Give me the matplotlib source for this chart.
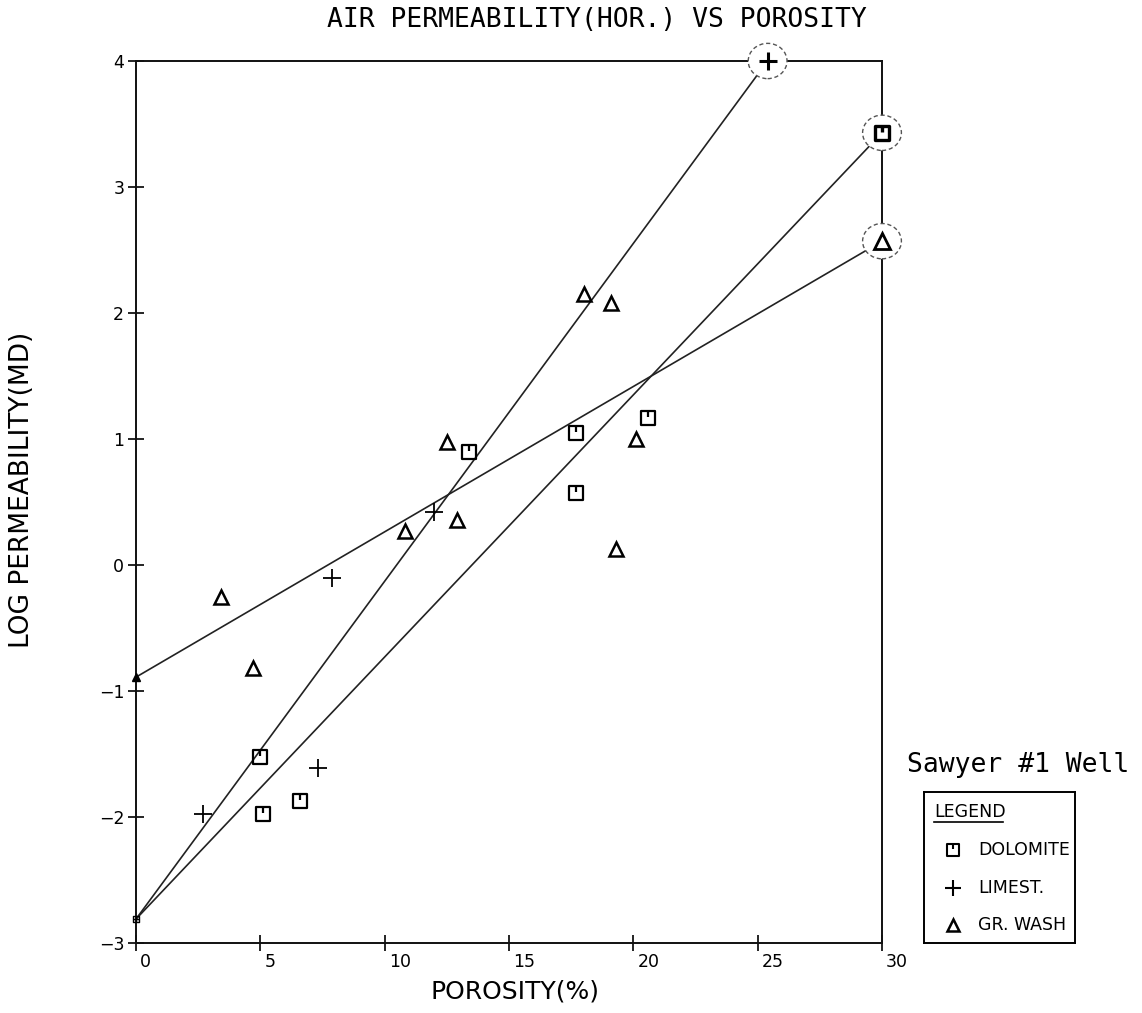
import matplotlib
matplotlib.use('Agg')
import matplotlib.pyplot as plt
from matplotlib.path import Path
from matplotlib.patches import Ellipse
import matplotlib.transforms as mtransforms

# ---------------- data ----------------
dolo_x = [5.0, 5.1, 6.6, 13.4, 17.7, 17.7, 20.6]
dolo_y = [-1.52, -1.98, -1.87, 0.90, 1.05, 0.57, 1.17]
lime_x = [2.7, 7.3, 7.9, 12.0]
lime_y = [-1.98, -1.61, -0.10, 0.42]
gw_x = [3.4, 4.7, 10.8, 12.5, 12.9, 18.0, 19.1, 20.1, 19.3]
gw_y = [-0.25, -0.82, 0.27, 0.98, 0.36, 2.15, 2.08, 1.00, 0.13]

# fitted lines (start at intercept, end at circled point)
dolo_line_x = [0, 30]
dolo_line_y = [-2.81, 3.43]
lime_line_x = [0, 25.4]
lime_line_y = [-2.81, 4.0]
gw_line_x = [0, 30]
gw_line_y = [-0.89, 2.57]

x_ticks = [0, 5, 10, 15, 20, 25, 30]
y_ticks = [-3, -2, -1, 0, 1, 2, 3, 4]

title = "AIR PERMEABILITY(HOR.) VS POROSITY"
x_label = "POROSITY(%)"
y_label = "LOG PERMEABILITY(MD)"
well_name = "Sawyer #1 Well"
legend_title = "LEGEND"
legend_labels = ["DOLOMITE", "LIMEST.", "GR. WASH"]

# ---------------- markers ----------------
sq_marker = Path([(-1, -1), (1, -1), (1, 1), (-1, 1), (-1, -1), (0, 1), (0, 0.15)],
                 [Path.MOVETO, Path.LINETO, Path.LINETO, Path.LINETO, Path.CLOSEPOLY,
                  Path.MOVETO, Path.LINETO])
sq_small = Path([(-1, -1), (1, -1), (1, 1), (-1, 1), (-1, -1), (0, 1), (0, -1), (-1, 0), (1, 0)],
                [Path.MOVETO, Path.LINETO, Path.LINETO, Path.LINETO, Path.CLOSEPOLY,
                 Path.MOVETO, Path.LINETO, Path.MOVETO, Path.LINETO])

plt.rcParams['font.family'] = ['DejaVu Sans']
fig = plt.figure(figsize=(11.42, 10.13), dpi=100)
ax = fig.add_axes([136 / 1142, 1 - 943 / 1013, (882 - 136) / 1142, (943 - 61) / 1013])

lc = '#222222'
ax.plot(dolo_line_x, dolo_line_y, color=lc, lw=1.2, zorder=2)
ax.plot(lime_line_x, lime_line_y, color=lc, lw=1.2, zorder=2)
ax.plot(gw_line_x, gw_line_y, color=lc, lw=1.2, zorder=2)

ax.plot(dolo_x, dolo_y, ls='none', marker=sq_marker, ms=10, mfc='none', mec='black', mew=1.6, zorder=3)
ax.plot(lime_x, lime_y, ls='none', marker='+', ms=13, mec='black', mew=1.3, zorder=3)
ax.plot(gw_x, gw_y, ls='none', marker='^', ms=10, mfc='none', mec='black', mew=1.8, zorder=3)

# intercept markers
ax.plot(dolo_line_x[:1], dolo_line_y[:1], ls='none', marker=sq_small, ms=5, mfc='none',
        mec='black', mew=1.0, zorder=4, clip_on=False)
ax.plot(gw_line_x[:1], gw_line_y[:1], ls='none', marker='^', ms=6, mfc='black',
        mec='black', zorder=4, clip_on=False)

# circled end points
rx, ry = 0.78, 0.14
for (ex, ey) in [(lime_line_x[-1], lime_line_y[-1]), (dolo_line_x[-1], dolo_line_y[-1]),
                 (gw_line_x[-1], gw_line_y[-1])]:
    ax.add_patch(Ellipse((ex, ey), 2 * rx, 2 * ry, facecolor='white', edgecolor='#555555',
                         ls=(0, (3, 2)), lw=1.0, zorder=4, clip_on=False))
ax.plot(lime_line_x[-1:], lime_line_y[-1:], ls='none', marker='+', ms=13, mec='black', mew=2.2,
        zorder=5, clip_on=False)
ax.plot(dolo_line_x[-1:], dolo_line_y[-1:], ls='none', marker=sq_marker, ms=10, mfc='none',
        mec='black', mew=2.4, zorder=5, clip_on=False)
ax.plot(gw_line_x[-1:], gw_line_y[-1:], ls='none', marker='^', ms=11, mfc='none', mec='black',
        mew=2.0, zorder=5, clip_on=False)

ax.set_xlim(0, 30)
ax.set_ylim(-3, 4)
ax.set_xticks(x_ticks)
ax.set_yticks(y_ticks)
ax.tick_params(direction='inout', length=11, width=1.2, labelsize=12.5, pad=3, colors='black')
ax.tick_params(axis='x', pad=2)
for sp in ax.spines.values():
    sp.set_linewidth(1.4)
    sp.set_color('#111111')
off = mtransforms.ScaledTranslation(0.04, 0, fig.dpi_scale_trans)
for lab in ax.get_xticklabels():
    lab.set_horizontalalignment('left')
    lab.set_transform(lab.get_transform() + off)

fig.text(597 / 1142, 1 - 20 / 1013, title, family='DejaVu Sans Mono', fontsize=19,
         ha='center', va='center')
fig.text(515 / 1142, 1 - 991 / 1013, x_label, fontsize=18, ha='center', va='center')
fig.text(22 / 1142, 1 - 490 / 1013, y_label, fontsize=19, ha='center', va='center',
         rotation=90)
fig.text(1018 / 1142, 1 - 765 / 1013, well_name, family='DejaVu Sans Mono', fontsize=19,
         ha='center', va='center')

# legend box
lax = fig.add_axes([924 / 1142, 1 - 943 / 1013, 151 / 1142, 151 / 1013])
lax.set_xlim(0, 1)
lax.set_ylim(0, 1)
lax.set_xticks([])
lax.set_yticks([])
for sp in lax.spines.values():
    sp.set_linewidth(1.4)
lax.text(0.066, 0.868, legend_title, fontsize=12.5, ha='left', va='center')
lax.plot([0.066, 0.52], [0.80, 0.80], color='black', lw=1.2)
rows_y = [0.616, 0.364, 0.119]
lax.plot([0.19], [rows_y[0]], marker=sq_marker, ms=8, mfc='none', mec='black', mew=1.5)
lax.plot([0.19], [rows_y[1]], marker='+', ms=12, mec='black', mew=1.5)
lax.plot([0.19], [rows_y[2]], marker='^', ms=8, mfc='none', mec='black', mew=1.8)
for yy, lab in zip(rows_y, legend_labels):
    lax.text(0.36, yy, lab, fontsize=12.5, ha='left', va='center')

fig.savefig('out.png', dpi=100, facecolor='white')
